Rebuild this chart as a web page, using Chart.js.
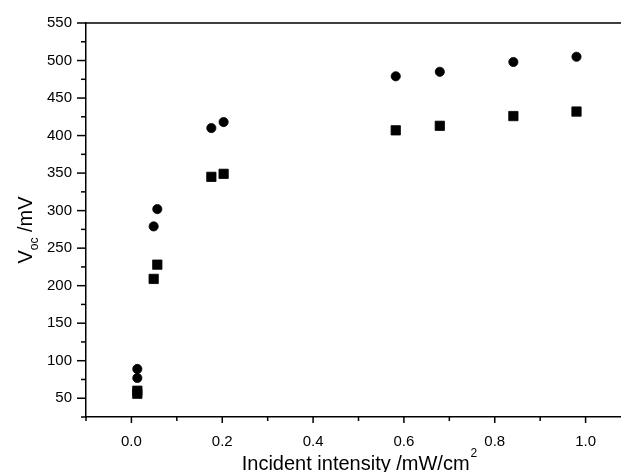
<!DOCTYPE html>
<html><head><meta charset="utf-8">
<script src="https://cdn.jsdelivr.net/npm/chart.js@4"></script>
<style>
html,body{margin:0;padding:0;background:#fff;overflow:hidden;width:621px;height:472px}
#wrap{width:621px;height:472px;overflow:hidden;position:relative;background:#fff}
canvas{display:block}
</style></head>
<body><div id="wrap"><canvas id="c" width="640" height="472"></canvas></div>
<script>
// Data
const intensity  = [0.013, 0.013, 0.049, 0.057, 0.176, 0.203, 0.582, 0.679, 0.841, 0.980];
const vocCircles = [77, 89, 279, 302, 410, 418, 479, 485, 498, 505];
const vocSquares = [56, 60, 209, 228, 345, 349, 407, 413, 426, 432];

// Axis ticks
const xMajorTicks = [0.0, 0.2, 0.4, 0.6, 0.8, 1.0];
const xMinorTicks = [-0.1, 0.1, 0.3, 0.5, 0.7, 0.9];
const yMajorTicks = [50, 100, 150, 200, 250, 300, 350, 400, 450, 500, 550];
const yMinorTicks = [25, 75, 125, 175, 225, 275, 325, 375, 425, 475, 525];

const FONT = '"Liberation Sans", Arial, sans-serif';

const decor = {
  id: 'decor',
  afterDraw(chart) {
    const ctx = chart.ctx, xs = chart.scales.x, ys = chart.scales.y, a = chart.chartArea;
    ctx.save();
    ctx.strokeStyle = '#000';
    ctx.lineWidth = 1.5;
    const seg = (x1, y1, x2, y2) => { ctx.beginPath(); ctx.moveTo(x1, y1); ctx.lineTo(x2, y2); ctx.stroke(); };
    seg(a.left - 0.75, a.top, a.right + 20, a.top);
    xMajorTicks.forEach(v => { const p = xs.getPixelForValue(v); seg(p, a.bottom, p, a.bottom + 6); });
    xMinorTicks.forEach(v => { const p = xs.getPixelForValue(v); seg(p, a.bottom, p, a.bottom + 4); });
    yMajorTicks.forEach(v => { const p = ys.getPixelForValue(v); seg(a.left - 9, p, a.left, p); });
    yMinorTicks.forEach(v => { const p = ys.getPixelForValue(v); seg(a.left - 5, p, a.left, p); });

    ctx.fillStyle = '#000';
    ctx.textBaseline = 'alphabetic';
    // X title with superscript
    const xMain = 'Incident intensity /mW/cm', xSup = '2';
    ctx.font = '20px ' + FONT;
    const w1 = ctx.measureText(xMain).width;
    ctx.font = '12px ' + FONT;
    const w2 = ctx.measureText(xSup).width;
    const xStart = 359 - (w1 + w2) / 2, xBase = 470;
    ctx.font = '20px ' + FONT;
    ctx.textAlign = 'left';
    ctx.fillText(xMain, xStart, xBase);
    ctx.font = '12px ' + FONT;
    ctx.fillText(xSup, xStart + w1 + 1, xBase - 13);

    // Y title with subscript (rotated)
    ctx.translate(32, 230);
    ctx.rotate(-Math.PI / 2);
    ctx.font = '20px ' + FONT;
    const wa = ctx.measureText('V').width;
    const wc = ctx.measureText(' /mV').width;
    ctx.font = '12px ' + FONT;
    const wb = ctx.measureText('oc').width;
    let sx = -(wa + wb + wc) / 2;
    ctx.font = '20px ' + FONT;
    ctx.fillText('V', sx, 0);
    ctx.font = '12px ' + FONT;
    ctx.fillText('oc', sx + wa, 6);
    ctx.font = '20px ' + FONT;
    ctx.fillText(' /mV', sx + wa + wb, 0);
    ctx.restore();
  }
};

new Chart(document.getElementById('c'), {
  type: 'scatter',
  data: {
    datasets: [
      {
        label: 'circles',
        data: intensity.map((x, i) => ({ x: x, y: vocCircles[i] })),
        pointStyle: 'circle', pointRadius: 4.6, pointHoverRadius: 4.6,
        backgroundColor: '#000', borderColor: '#000', borderWidth: 0.8
      },
      {
        label: 'squares',
        data: intensity.map((x, i) => ({ x: x, y: vocSquares[i] })),
        pointStyle: 'rect', pointRadius: 6.6, pointHoverRadius: 6.6,
        backgroundColor: '#000', borderColor: '#000', borderWidth: 0.8
      }
    ]
  },
  options: {
    responsive: false,
    animation: false,
    events: [],
    layout: { padding: { top: 19, right: 9, left: 0, bottom: 0 } },
    plugins: { legend: { display: false }, tooltip: { enabled: false } },
    scales: {
      x: {
        type: 'linear', min: -0.1, max: 1.1,
        afterFit: s => { s.height = 55; },
        grid: { display: false, drawTicks: false },
        border: { display: true, color: '#000', width: 1.5 },
        afterBuildTicks: s => { s.ticks = xMajorTicks.map(v => ({ value: v })); },
        ticks: {
          autoSkip: false, maxRotation: 0, padding: 16, color: '#000',
          font: { family: FONT, size: 15 },
          callback: v => Number(v).toFixed(1)
        },
        title: { display: false }
      },
      y: {
        type: 'linear', min: 25, max: 550,
        afterFit: s => { s.width = 86; },
        grid: { display: false, drawTicks: false },
        border: { display: true, color: '#000', width: 1.5 },
        afterBuildTicks: s => { s.ticks = yMajorTicks.map(v => ({ value: v })); },
        ticks: {
          autoSkip: false, padding: 14, color: '#000',
          font: { family: FONT, size: 15 },
          callback: v => String(v)
        },
        title: { display: false }
      }
    }
  },
  plugins: [decor]
});
</script>
</body></html>
